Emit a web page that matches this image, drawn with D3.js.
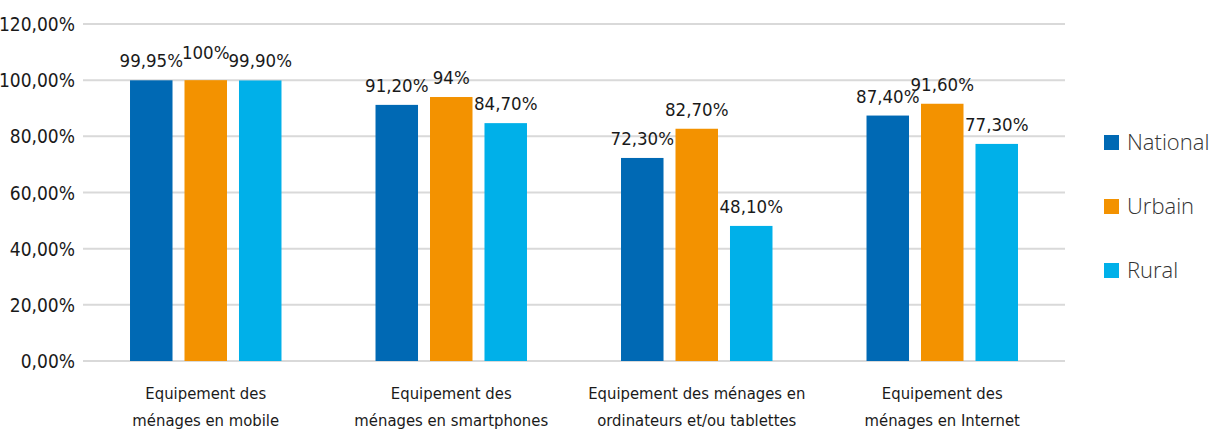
<!DOCTYPE html>
<html>
<head>
<meta charset="utf-8">
<script src="https://cdn.jsdelivr.net/npm/d3@7"></script>
<style>
  body { margin: 0; background: #fff; }
  text { font-family: "DejaVu Sans Condensed", "DejaVu Sans", sans-serif; font-stretch: condensed; fill: #1a1a1a; }
  .legend text { font-family: "Open Sans", sans-serif; font-stretch: normal; font-weight: 300; fill: #333; }
</style>
</head>
<body>
<div id="holder"></div>
<script>
var categories = [
  ["Equipement des", "ménages en mobile"],
  ["Equipement des", "ménages en smartphones"],
  ["Equipement des ménages en", "ordinateurs et/ou tablettes"],
  ["Equipement des", "ménages en Internet"]
];
var series = ["National", "Urbain", "Rural"];
var national = [99.95, 91.2, 72.3, 87.4];
var urbain = [100, 94, 82.7, 91.6];
var rural = [99.9, 84.7, 48.1, 77.3];
var nationalLabels = ["99,95%", "91,20%", "72,30%", "87,40%"];
var urbainLabels = ["100%", "94%", "82,70%", "91,60%"];
var ruralLabels = ["99,90%", "84,70%", "48,10%", "77,30%"];
var yTicks = [0, 20, 40, 60, 80, 100, 120];

var colors = { National: "#0069b4", Urbain: "#f39200", Rural: "#00b0e9" };
var values = { National: national, Urbain: urbain, Rural: rural };
var labels = { National: nationalLabels, Urbain: urbainLabels, Rural: ruralLabels };

var width = 1211, height = 433;
var svg = d3.select('#holder').append('svg').attr('width', width).attr('height', height);

var y = d3.scaleLinear().domain([0, 120]).range([361, 24]);
var x0 = d3.scaleBand().domain(d3.range(categories.length)).range([83, 1065])
  .paddingInner(0.383).paddingOuter(0.1915);
var x1 = d3.scaleBand().domain(series).range([0, x0.bandwidth()]).paddingInner(0.22);

// grid
svg.append('g').selectAll('line').data(yTicks).enter().append('line')
  .attr('x1', 83).attr('x2', 1065)
  .attr('y1', d => y(d)).attr('y2', d => y(d))
  .style('stroke', '#d9d9d9').style('stroke-width', 2);

// y labels
svg.append('g').selectAll('text').data(yTicks).enter().append('text')
  .attr('x', 75).attr('y', d => y(d) + 7)
  .attr('text-anchor', 'end').style('font-size', '19px')
  .text(d => d.toFixed(2).replace('.', ',') + '%');

// bars
var groups = svg.append('g').selectAll('g').data(categories).enter().append('g')
  .attr('transform', (d, i) => 'translate(' + x0(i) + ',0)');

// middle label gets lifted when its neighbours sit at the same height
function lift(s, i) {
  if (s !== "Urbain") return 0;
  var close = Math.abs(national[i] - urbain[i]) < 1 && Math.abs(rural[i] - urbain[i]) < 1;
  return close ? 8 : 0;
}

series.forEach(function(s) {
  groups.append('rect')
    .attr('x', x1(s))
    .attr('width', x1.bandwidth())
    .attr('y', (d, i) => y(values[s][i]))
    .attr('height', (d, i) => y(0) - y(values[s][i]))
    .style('fill', colors[s]);
  groups.append('text')
    .attr('x', x1(s) + x1.bandwidth() / 2)
    .attr('y', (d, i) => y(values[s][i]) - 13 - lift(s, i))
    .attr('text-anchor', 'middle').style('font-size', '18.5px')
    .text((d, i) => labels[s][i]);
});

// category labels
groups.append('text')
  .attr('x', x0.bandwidth() / 2).attr('y', 399)
  .attr('text-anchor', 'middle').style('font-size', '16.5px')
  .text(d => d[0]);
groups.append('text')
  .attr('x', x0.bandwidth() / 2).attr('y', 426)
  .attr('text-anchor', 'middle').style('font-size', '16.5px')
  .text(d => d[1]);

// legend
var legend = svg.append('g').attr('class', 'legend').selectAll('g').data(series).enter().append('g')
  .attr('transform', (d, i) => 'translate(1104,' + (142 + i * 64) + ')');
legend.append('rect').attr('x', 0).attr('y', -7).attr('width', 15).attr('height', 15)
  .style('fill', d => colors[d]);
legend.append('text').attr('x', 23).attr('y', 8).style('font-size', '22px').text(d => d);
</script>
</body>
</html>
